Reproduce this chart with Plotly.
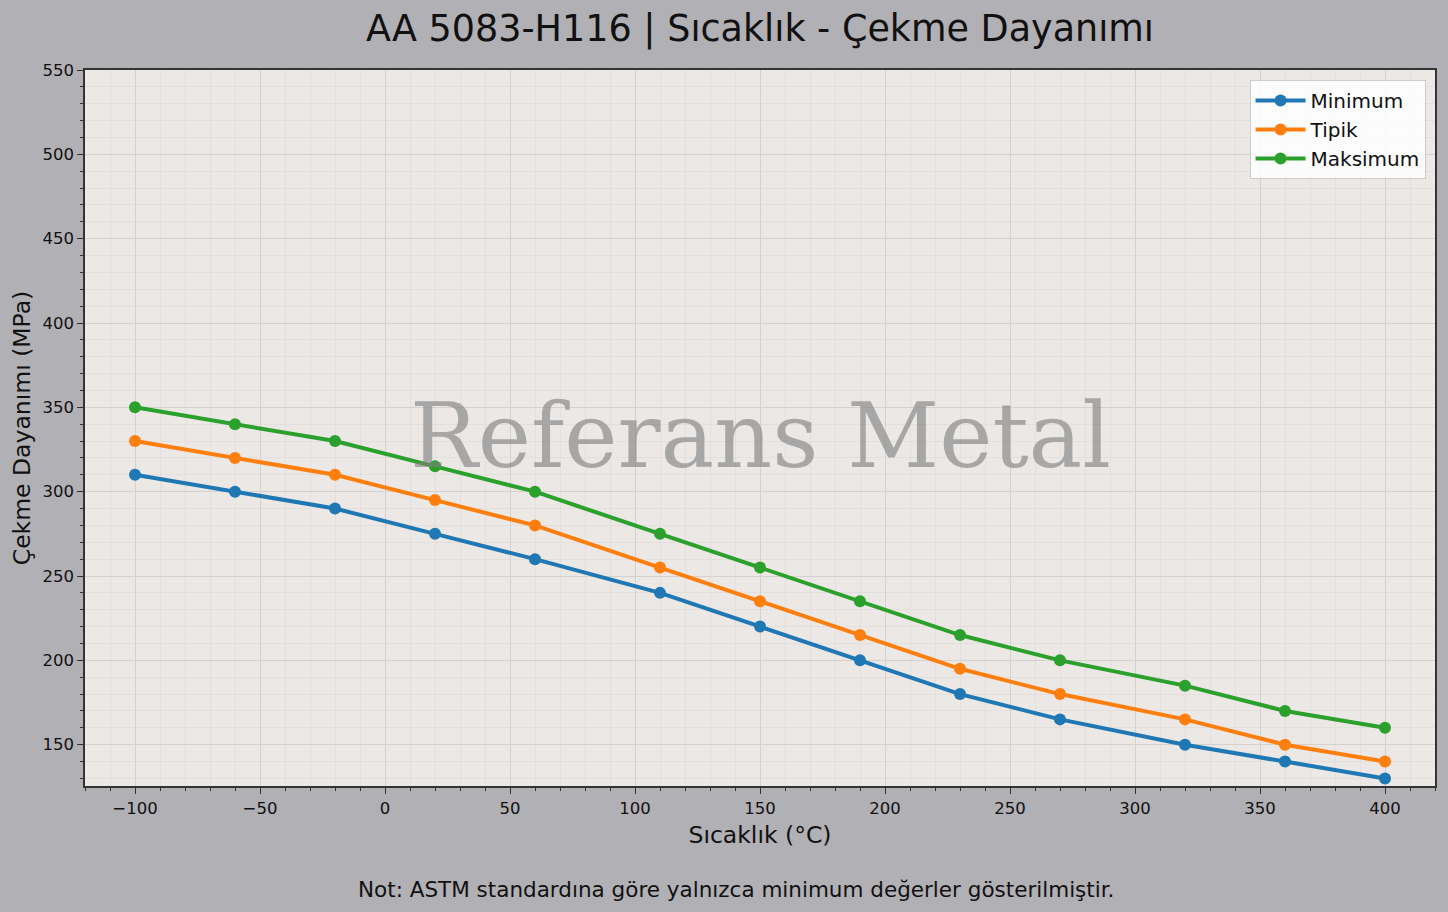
import plotly.graph_objects as go

# temperature points (°C)
sicaklik = [-100, -60, -20, 20, 60, 110, 150, 190, 230, 270, 320, 360, 400]

# tensile strength (MPa)
minimum = [310, 300, 290, 275, 260, 240, 220, 200, 180, 165, 150, 140, 130]
tipik = [330, 320, 310, 295, 280, 255, 235, 215, 195, 180, 165, 150, 140]
maksimum = [350, 340, 330, 315, 300, 275, 255, 235, 215, 200, 185, 170, 160]

series = [("Minimum", minimum, "#1f77b4"),
          ("Tipik", tipik, "#ff7f0e"),
          ("Maksimum", maksimum, "#2ca02c")]

FONT = "DejaVu Sans"

fig = go.Figure()

for name, vals, col in series:
    fig.add_trace(go.Scatter(
        x=sicaklik,
        y=vals,
        name=name,
        mode="lines+markers",
        line=dict(color=col, width=4),
        marker=dict(color=col, size=12),
    ))

axis_common = dict(
    showline=True,
    linecolor="#333333",
    linewidth=1.5,
    mirror=True,
    ticks="outside",
    ticklen=6,
    tickwidth=1.2,
    tickcolor="#333333",
    tickfont=dict(family=FONT, size=16.5, color="#111111"),
    showgrid=True,
    gridcolor="#d4d1cf",
    gridwidth=1,
    zeroline=False,
)

fig.update_xaxes(
    range=[-120, 420],
    dtick=50,
    tick0=0,
    title=dict(text="Sıcaklık (°C)", font=dict(family=FONT, size=23.5, color="#111111"), standoff=10),
    minor=dict(dtick=10, ticks="outside", ticklen=3.5, tickcolor="#333333",
               showgrid=True, gridcolor="#e2dfdd", gridwidth=0.8),
    **axis_common
)
fig.update_yaxes(
    range=[125.5, 550],
    dtick=50,
    tick0=0,
    title=dict(text="Çekme Dayanımı (MPa)", font=dict(family=FONT, size=23.5, color="#111111"), standoff=5),
    minor=dict(dtick=10, ticks="outside", ticklen=3.5, tickcolor="#333333",
               showgrid=True, gridcolor="#e2dfdd", gridwidth=0.8),
    **axis_common
)

fig.update_layout(
    width=1448,
    height=912,
    paper_bgcolor="#b1b0b5",
    plot_bgcolor="#ebe8e6",
    margin=dict(l=85, r=11, t=70, b=126),
    font=dict(family=FONT, color="#111111"),
    title=dict(text="AA 5083-H116 | Sıcaklık - Çekme Dayanımı",
               font=dict(family=FONT, size=36.5, color="#111111"),
               x=0.5, xref="paper", xanchor="center",
               y=1 - 28 / 912, yanchor="middle", yref="container"),
    legend=dict(
        x=0.993, y=0.986, xanchor="right", yanchor="top",
        bgcolor="rgba(255,255,255,0.85)",
        bordercolor="#cccccc", borderwidth=1,
        font=dict(family=FONT, size=20, color="#111111"),
        itemwidth=50,
        tracegroupgap=0,
    ),
    annotations=[
        dict(text="Referans Metal", x=0.5, y=0.49, xref="paper", yref="paper",
             xanchor="center", yanchor="middle", showarrow=False,
             font=dict(family="DejaVu Serif", size=90, color="rgba(128,128,128,0.62)")),
        dict(text="Not: ASTM standardına göre yalnızca minimum değerler gösterilmiştir.",
             x=0.482, y=-0.144, xref="paper", yref="paper",
             xanchor="center", yanchor="middle", showarrow=False,
             font=dict(family=FONT, size=21.5, color="#111111")),
    ],
)

fig.write_html("out.html", config={"displayModeBar": False},
               post_script="document.body.style.margin='0';")
